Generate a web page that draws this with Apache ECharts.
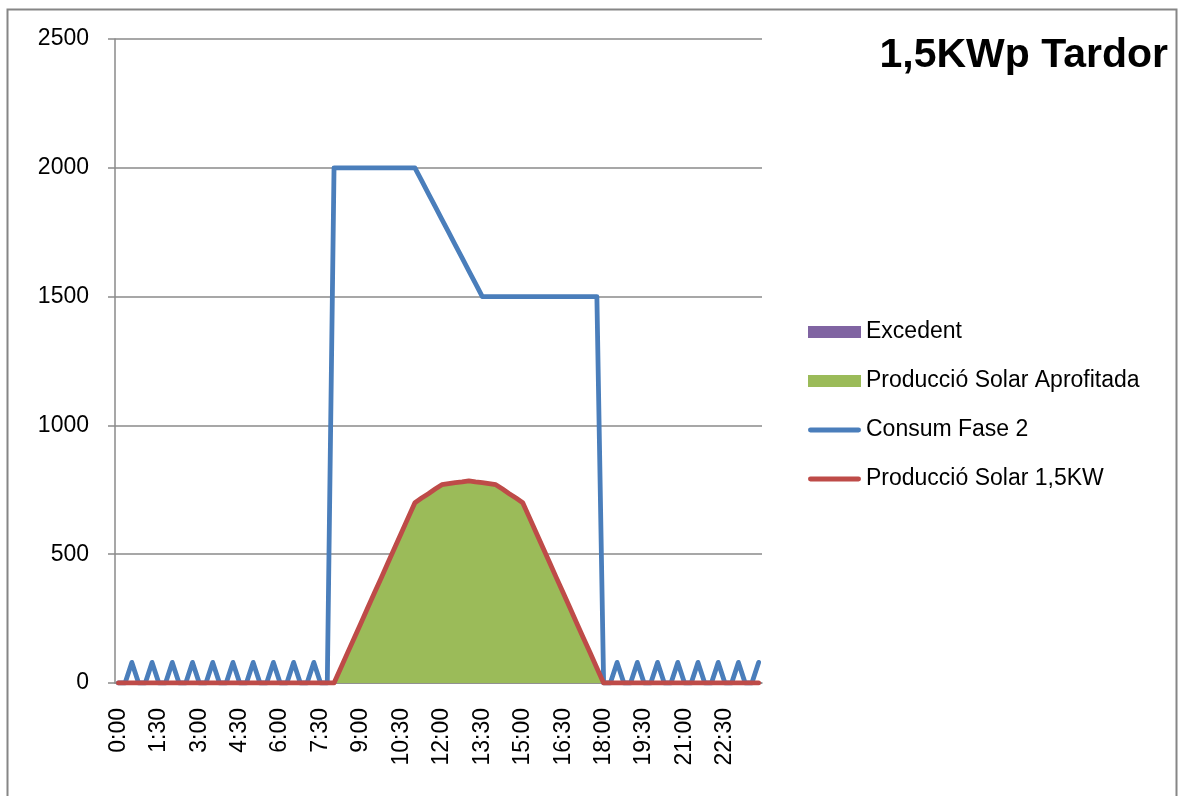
<!DOCTYPE html>
<html>
<head>
<meta charset="utf-8">
<title>1,5KWp Tardor</title>
<script src="https://cdn.jsdelivr.net/npm/echarts@6/dist/echarts.min.js"></script>
<style>
  html, body { margin: 0; padding: 0; background: #ffffff; }
  #chart { width: 1180px; height: 796px; }
</style>
</head>
<body>
<div id="chart"></div>
<script>
// Quarter-hour slots over one day
const hours = [
  '0:00','0:15','0:30','0:45','1:00','1:15','1:30','1:45','2:00','2:15','2:30','2:45',
  '3:00','3:15','3:30','3:45','4:00','4:15','4:30','4:45','5:00','5:15','5:30','5:45',
  '6:00','6:15','6:30','6:45','7:00','7:15','7:30','7:45','8:00','8:15','8:30','8:45',
  '9:00','9:15','9:30','9:45','10:00','10:15','10:30','10:45','11:00','11:15','11:30','11:45',
  '12:00','12:15','12:30','12:45','13:00','13:15','13:30','13:45','14:00','14:15','14:30','14:45',
  '15:00','15:15','15:30','15:45','16:00','16:15','16:30','16:45','17:00','17:15','17:30','17:45',
  '18:00','18:15','18:30','18:45','19:00','19:15','19:30','19:45','20:00','20:15','20:30','20:45',
  '21:00','21:15','21:30','21:45','22:00','22:15','22:30','22:45','23:00','23:15','23:30','23:45'
];

// Phase 2 consumption (W)
const consumFase2 = [
  0, 0, 80, 0, 0, 80, 0, 0, 80, 0, 0, 80,
  0, 0, 80, 0, 0, 80, 0, 0, 80, 0, 0, 80,
  0, 0, 80, 0, 0, 80, 0, 0, 2000, 2000, 2000, 2000,
  2000, 2000, 2000, 2000, 2000, 2000, 2000, 2000, 2000, 1950, 1900, 1850,
  1800, 1750, 1700, 1650, 1600, 1550, 1500, 1500, 1500, 1500, 1500, 1500,
  1500, 1500, 1500, 1500, 1500, 1500, 1500, 1500, 1500, 1500, 1500, 1500,
  0, 0, 80, 0, 0, 80, 0, 0, 80, 0, 0, 80,
  0, 0, 80, 0, 0, 80, 0, 0, 80, 0, 0, 80
];

// 1,5KW solar production (W)
const produccioSolar = [
  0, 0, 0, 0, 0, 0, 0, 0, 0, 0, 0, 0,
  0, 0, 0, 0, 0, 0, 0, 0, 0, 0, 0, 0,
  0, 0, 0, 0, 0, 0, 0, 0, 0, 58, 117, 175,
  233, 292, 350, 408, 467, 525, 583, 642, 700, 718, 735, 753,
  770, 774, 778, 781, 785, 781, 778, 774, 770, 753, 735, 718,
  700, 642, 583, 525, 467, 408, 350, 292, 233, 175, 117, 58,
  0, 0, 0, 0, 0, 0, 0, 0, 0, 0, 0, 0,
  0, 0, 0, 0, 0, 0, 0, 0, 0, 0, 0, 0
];

// Solar production used on site (W)
const produccioAprofitada = [
  0, 0, 0, 0, 0, 0, 0, 0, 0, 0, 0, 0,
  0, 0, 0, 0, 0, 0, 0, 0, 0, 0, 0, 0,
  0, 0, 0, 0, 0, 0, 0, 0, 0, 58, 117, 175,
  233, 292, 350, 408, 467, 525, 583, 642, 700, 718, 735, 753,
  770, 774, 778, 781, 785, 781, 778, 774, 770, 753, 735, 718,
  700, 642, 583, 525, 467, 408, 350, 292, 233, 175, 117, 58,
  0, 0, 0, 0, 0, 0, 0, 0, 0, 0, 0, 0,
  0, 0, 0, 0, 0, 0, 0, 0, 0, 0, 0, 0
];

// Surplus fed back (W)
const excedent = [
  0, 0, 0, 0, 0, 0, 0, 0, 0, 0, 0, 0,
  0, 0, 0, 0, 0, 0, 0, 0, 0, 0, 0, 0,
  0, 0, 0, 0, 0, 0, 0, 0, 0, 0, 0, 0,
  0, 0, 0, 0, 0, 0, 0, 0, 0, 0, 0, 0,
  0, 0, 0, 0, 0, 0, 0, 0, 0, 0, 0, 0,
  0, 0, 0, 0, 0, 0, 0, 0, 0, 0, 0, 0,
  0, 0, 0, 0, 0, 0, 0, 0, 0, 0, 0, 0,
  0, 0, 0, 0, 0, 0, 0, 0, 0, 0, 0, 0
];

const FONT = '"Liberation Sans", Arial, sans-serif';
const GRID_GRAY = '#8a8a8a';
const LINE_W = 4.8;
// thin rounded bar used as the legend key of the line series
const LINE_ICON = 'path://M2.4,0 L49.6,0 A2.4,2.4 0 0 1 49.6,4.8 L2.4,4.8 A2.4,2.4 0 0 1 2.4,0 Z';

const chart = echarts.init(document.getElementById('chart'), null, { renderer: 'canvas' });

chart.setOption({
  animation: false,
  backgroundColor: '#ffffff',
  title: {
    text: '1,5KWp Tardor',
    right: 7,
    top: 30,
    textStyle: { fontFamily: FONT, fontSize: 41, fontWeight: 'bold', color: '#000000' }
  },
  graphic: [{
    type: 'rect',
    shape: { x: 7.5, y: 9.5, width: 1169, height: 800 },
    style: { fill: null, stroke: '#868686', lineWidth: 2 },
    silent: true,
    z: -1
  }],
  legend: {
    orient: 'vertical',
    left: 803,
    top: 315,
    itemWidth: 53,
    itemHeight: 12,
    itemGap: 25,
    textStyle: { fontFamily: FONT, fontSize: 23, color: '#000000', lineHeight: 24 },
    data: [
      { name: 'Excedent', icon: 'rect' },
      { name: 'Producció Solar Aprofitada', icon: 'rect' },
      { name: 'Consum Fase 2', icon: LINE_ICON },
      { name: 'Producció Solar 1,5KW', icon: LINE_ICON }
    ]
  },
  grid: { left: 115, right: 418, top: 39, bottom: 113, containLabel: false },
  xAxis: {
    type: 'category',
    data: hours,
    boundaryGap: true,
    axisLine: { lineStyle: { color: GRID_GRAY, width: 1.5 } },
    axisTick: { interval: 0, length: 8, lineStyle: { color: GRID_GRAY, width: 1.5 } },
    axisLabel: {
      interval: 5,
      rotate: 90,
      margin: 25,
      fontFamily: FONT,
      fontSize: 23,
      color: '#000000'
    },
    splitLine: { show: false }
  },
  yAxis: {
    type: 'value',
    min: 0,
    max: 2500,
    interval: 500,
    axisLine: { show: true, lineStyle: { color: GRID_GRAY, width: 1.5 } },
    axisTick: { show: true, length: 7, lineStyle: { color: GRID_GRAY, width: 1.5 } },
    axisLabel: {
      margin: 26,
      fontFamily: FONT,
      fontSize: 23,
      color: '#000000',
      formatter: (v) => String(v)
    },
    splitLine: { show: true, lineStyle: { color: GRID_GRAY, width: 1.5 } }
  },
  series: [
    {
      name: 'Excedent',
      type: 'line',
      stack: 'produccio',
      data: excedent,
      symbol: 'none',
      lineStyle: { width: 0 },
      itemStyle: { color: '#8064A2' },
      areaStyle: { color: '#8064A2', opacity: 1 },
      z: 1
    },
    {
      name: 'Producció Solar Aprofitada',
      type: 'line',
      stack: 'produccio',
      data: produccioAprofitada,
      symbol: 'none',
      lineStyle: { width: 0 },
      itemStyle: { color: '#9BBB59' },
      areaStyle: { color: '#9BBB59', opacity: 1 },
      z: 1
    },
    {
      name: 'Consum Fase 2',
      type: 'line',
      data: consumFase2,
      symbol: 'none',
      lineStyle: { color: '#4A7EBB', width: LINE_W, join: 'round', cap: 'round' },
      itemStyle: { color: '#4A7EBB' },
      z: 3
    },
    {
      name: 'Producció Solar 1,5KW',
      type: 'line',
      data: produccioSolar,
      symbol: 'none',
      lineStyle: { color: '#BE4B48', width: LINE_W, join: 'round', cap: 'round' },
      itemStyle: { color: '#BE4B48' },
      z: 4
    }
  ]
});
</script>
</body>
</html>
